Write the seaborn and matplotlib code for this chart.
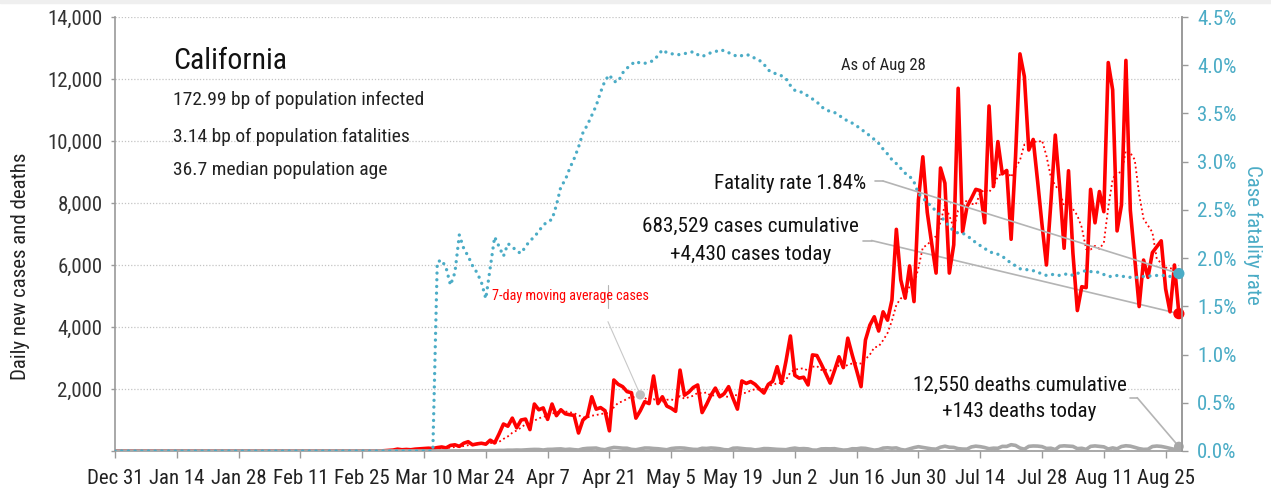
import pandas as pd
import numpy as np
import matplotlib
matplotlib.use("Agg")
import matplotlib.pyplot as plt
import matplotlib.ticker as mticker
from matplotlib import font_manager
from matplotlib.patches import Rectangle
import seaborn as sns

# daily values, Dec 31 2019 .. Aug 28 2020
dates = pd.date_range("2019-12-31", "2020-08-28", freq="D")

cases = [0] * 61 + [
    10, 20, 30, 60, 40, 50, 40, 60, 70, 80,
    90, 80, 110, 130, 100, 180, 200, 150, 250, 300,
    200, 230, 250, 220, 350, 260, 550, 870, 800, 1060,
    750, 1000, 1030, 690, 1515, 1330, 1390, 1020, 1515, 1140,
    1330, 1200, 1170, 1150, 580, 1000, 1120, 1750, 1350, 1400,
    1300, 650, 2290, 2150, 2075, 1915, 1880, 1060, 1300, 1590,
    1530, 2420, 1530, 1750, 1450, 1380, 1280, 2610, 1800, 1900,
    2050, 2130, 1240, 1500, 1800, 2030, 1750, 1850, 2075, 1700,
    1350, 2260, 2180, 2240, 2150, 2000, 1870, 2150, 2250, 2720,
    2180, 2900, 3710, 2440, 2350, 2380, 2130, 3100, 3080, 2800,
    2500, 2190, 2600, 3040, 2690, 3640, 3100, 2600, 2075, 3580,
    4060, 4330, 3870, 4490, 4220, 4870, 7150, 5520, 4930, 5970,
    4820, 8100, 9490, 7700, 6700, 5740, 9130, 8640, 5740, 6650,
    11700, 7070, 7880, 8150, 8440, 8400, 7360, 11130, 8530, 9980,
    8940, 9050, 6830, 9500, 12810, 12080, 9710, 10050, 8700, 7300,
    6000, 8000, 10190, 8500, 6540, 9040, 6380, 4530, 5300, 5270,
    8440, 7360, 8370, 7720, 12530, 11650, 7100, 7940, 12600, 7770,
    6200, 4660, 6160, 5600, 6400, 6590, 6780, 5230, 4490, 6000,
    4430,
]

deaths = [0] * 61 + [
    0, 0, 0, 1, 0, 1, 1, 1, 0, 2,
    1, 1, 1, 2, 3, 2, 4, 5, 6, 6,
    4, 7, 10, 8, 14, 13, 20, 18, 27, 26,
    32, 28, 38, 45, 51, 49, 32, 52, 54, 63,
    68, 48, 59, 43, 32, 70, 85, 89, 95, 56,
    42, 84, 115, 105, 91, 89, 52, 41, 68, 96,
    95, 81, 73, 56, 40, 79, 95, 100, 92, 70,
    53, 49, 88, 82, 97, 88, 72, 43, 35, 90,
    96, 80, 66, 60, 36, 52, 78, 76, 64, 54,
    47, 42, 74, 94, 71, 78, 68, 31, 28, 68,
    72, 69, 75, 50, 29, 37, 73, 70, 92, 85,
    56, 28, 45, 94, 104, 90, 100, 49, 28, 70,
    110, 139, 115, 94, 68, 60, 123, 154, 122, 116,
    76, 63, 60, 132, 156, 140, 113, 73, 92, 87,
    149, 147, 203, 180, 96, 58, 150, 162, 158, 141,
    82, 90, 48, 154, 167, 157, 148, 76, 88, 52,
    150, 164, 149, 134, 64, 100, 70, 145, 169, 156,
    118, 76, 53, 58, 145, 160, 148, 119, 86, 52,
    143,
]

# case fatality rate in percent
cfr_pct = [0] * 73 + [
    1.96, 1.98, 1.90, 1.72, 1.85, 2.24, 2.10, 2.02, 1.92, 1.85,
    1.75, 1.58, 1.90, 2.22, 2.12, 2.02, 2.15, 2.12, 2.07, 2.05,
    2.12, 2.18, 2.22, 2.28, 2.34, 2.38, 2.40, 2.55, 2.74, 2.81,
    2.93, 3.03, 3.15, 3.30, 3.38, 3.48, 3.58, 3.72, 3.84, 3.90,
    3.83, 3.83, 3.92, 3.97, 4.01, 4.04, 4.02, 4.02, 4.03, 4.05,
    4.10, 4.16, 4.13, 4.12, 4.11, 4.11, 4.12, 4.13, 4.14, 4.11,
    4.09, 4.11, 4.13, 4.14, 4.16, 4.15, 4.13, 4.11, 4.09, 4.10,
    4.11, 4.10, 4.07, 4.05, 4.01, 3.95, 3.92, 3.91, 3.89, 3.86,
    3.79, 3.74, 3.73, 3.71, 3.68, 3.65, 3.62, 3.57, 3.54, 3.52,
    3.51, 3.48, 3.45, 3.42, 3.40, 3.37, 3.34, 3.30, 3.27, 3.23,
    3.19, 3.13, 3.08, 3.02, 2.98, 2.93, 2.88, 2.85, 2.79, 2.67,
    2.62, 2.58, 2.53, 2.49, 2.44, 2.38, 2.33, 2.28, 2.26, 2.26,
    2.23, 2.20, 2.16, 2.13, 2.10, 2.07, 2.05, 2.04, 2.02, 1.98,
    1.95, 1.92, 1.89, 1.88, 1.88, 1.87, 1.85, 1.84, 1.82, 1.83,
    1.83, 1.82, 1.83, 1.84, 1.82, 1.84, 1.86, 1.87, 1.86, 1.86,
    1.85, 1.83, 1.81, 1.81, 1.82, 1.81, 1.81, 1.80, 1.80, 1.80,
    1.81, 1.81, 1.82, 1.82, 1.82, 1.82, 1.81, 1.82, 1.84,
]

tick_dates = pd.date_range("2019-12-31", "2020-08-25", freq="14D")
tick_labels = [f"{d:%b} {d.day}" for d in tick_dates]

df = pd.DataFrame({"date": dates, "cases": cases, "deaths": deaths,
                   "cfr": np.array(cfr_pct) / 100})
df["cases_ma7"] = df["cases"].rolling(7, min_periods=1).mean()

RED = "#ff0000"
BLUE = "#4bacc6"
GRAY = "#a8a8a8"
LEAD = "#b4b4b4"
SPINE = "#9a9a9a"

sns.set_theme(style="ticks")

# pick a narrow face if one is around, otherwise plain DejaVu Sans a bit smaller
fonts = font_manager.fontManager.ttflist
names = {f.name for f in fonts}
family, k = "DejaVu Sans", 0.8
for cand in ["Liberation Sans Narrow", "Roboto Condensed", "Open Sans Condensed",
             "Noto Sans Condensed", "DejaVu Sans Condensed"]:
    if cand in names:
        family, k = cand, 1.0
        break
plt.rcParams["font.family"] = [family, "DejaVu Sans"]
if family == "DejaVu Sans" and any(f.name == "DejaVu Sans" and f.stretch == "condensed" for f in fonts):
    plt.rcParams["font.stretch"] = "condensed"
    k = 0.88

fig, ax = plt.subplots(figsize=(12.71, 4.91), dpi=100)
fig.subplots_adjust(left=115 / 1271, right=1182 / 1271, bottom=40 / 491, top=474 / 491)
fig.add_artist(Rectangle((0, 1 - 3 / 491), 1, 3 / 491, transform=fig.transFigure,
                         color="#efefef", zorder=0))

# cases and deaths on the left axis
sns.lineplot(data=df, x="date", y="cases_ma7", ax=ax, color=RED, linewidth=1.3,
             linestyle=(0, (1, 1.6)), zorder=3)
sns.lineplot(data=df, x="date", y="cases", ax=ax, color=RED, linewidth=2.6, zorder=4)
sns.lineplot(data=df, x="date", y="deaths", ax=ax, color=GRAY, linewidth=2.6, zorder=5)

ax.set_xlim(dates[0], dates[-1] + pd.Timedelta(hours=17))
ax.set_ylim(0, 14000)
ax.set_yticks(range(0, 14001, 2000))
ax.yaxis.set_major_formatter(mticker.FuncFormatter(lambda v, p: "" if v == 0 else f"{v:,.0f}"))
ax.set_xticks(tick_dates)
ax.set_xticklabels(tick_labels)
ax.yaxis.grid(True, color="#c4c4c4", linestyle=(0, (1, 1.5)), linewidth=0.9)
ax.set_axisbelow(True)
ax.set_xlabel("")
ax.set_ylabel("Daily new cases and deaths", fontsize=15 * k, color="#222222")
ax.yaxis.set_label_coords(-0.080, 0.426)
ax.tick_params(axis="x", direction="out", length=5, width=1, color=SPINE, pad=8,
               labelsize=15 * k, labelcolor="#222222")
ax.tick_params(axis="y", direction="out", length=3, width=1, color=SPINE, pad=6,
               labelsize=15 * k, labelcolor="#333333")
for s in ["left", "bottom", "right"]:
    ax.spines[s].set_color(SPINE)
    ax.spines[s].set_linewidth(1.2)
ax.spines["top"].set_visible(False)

# case fatality rate on the right axis
ax2 = ax.twinx()
sns.lineplot(data=df, x="date", y="cfr", ax=ax2, color=BLUE, linewidth=2.4,
             linestyle=(0, (0.01, 2.0)), dash_capstyle="round", zorder=3)
ax2.set_ylim(0, 0.045)
ax2.set_yticks(np.arange(0, 0.0451, 0.005))
ax2.yaxis.set_major_formatter(mticker.PercentFormatter(xmax=1, decimals=1))
ax2.set_ylabel("Case fatality rate", fontsize=15 * k, color=BLUE, rotation=270)
ax2.yaxis.set_label_coords(1.075, 0.498)
ax2.tick_params(axis="y", direction="out", length=4, width=1, color=SPINE, pad=7,
                labelsize=15 * k, labelcolor=BLUE)
ax2.spines["top"].set_visible(False)
ax2.spines["left"].set_visible(False)
ax2.spines["bottom"].set_visible(False)
ax2.spines["right"].set_color(SPINE)
ax2.spines["right"].set_linewidth(1.2)

# end-of-series markers
last = df.iloc[-1]
sns.scatterplot(x=[last["date"]], y=[last["cases"]], ax=ax, color=RED, s=65,
                edgecolor="none", zorder=7, clip_on=False)
sns.scatterplot(x=[last["date"]], y=[last["deaths"]], ax=ax, color=GRAY, s=50,
                edgecolor="none", zorder=7, clip_on=False)
sns.scatterplot(x=[last["date"]], y=[last["cfr"]], ax=ax2, color=BLUE, s=65,
                edgecolor="none", zorder=7, clip_on=False)
ma_row = df[df["date"] == "2020-04-28"].iloc[0]
sns.scatterplot(x=[ma_row["date"]], y=[ma_row["cases_ma7"]], ax=ax, color="#bdbdbd", s=45,
                edgecolor="none", zorder=7)

# leader lines
lead = dict(arrowstyle="-", color=LEAD, lw=1.2, shrinkA=0, shrinkB=0)
ax.plot([0.7123, 0.7198], [0.6221, 0.6221], transform=ax.transAxes, color=LEAD, lw=1.2)
ax2.annotate("", xy=(last["date"], last["cfr"]), xycoords="data",
             xytext=(0.7198, 0.6221), textcoords="axes fraction", arrowprops=lead)
ax.plot([0.701, 0.709], [0.485, 0.485], transform=ax.transAxes, color=LEAD, lw=1.2)
ax.annotate("", xy=(last["date"], last["cases"]), xycoords="data",
            xytext=(0.709, 0.485), textcoords="axes fraction", arrowprops=lead)
ax.plot([0.9513, 0.958], [0.1228, 0.1228], transform=ax.transAxes, color=LEAD, lw=1.2)
ax.annotate("", xy=(last["date"], last["deaths"]), xycoords="data",
            xytext=(0.958, 0.1228), textcoords="axes fraction", arrowprops=lead)
ax.plot([0.4616, 0.4616], [0.3825, 0.3295], transform=ax.transAxes, color=LEAD, lw=0.8)
ax.annotate("", xy=(ma_row["date"], ma_row["cases_ma7"]), xycoords="data",
            xytext=(0.462, 0.298), textcoords="axes fraction",
            arrowprops=dict(arrowstyle="-", color="#c8c8c8", lw=0.8, shrinkA=0, shrinkB=0))

# text
tA = ax.transAxes
ax.text(0.0544, 0.899, "California", transform=tA, fontsize=21.5 * k, color="#111111",
        va="center", ha="left")
ax.text(0.0544, 0.809, "172.99 bp of population infected", transform=tA, fontsize=14 * k,
        color="#222222", va="center", ha="left")
ax.text(0.0544, 0.7235, "3.14 bp of population fatalities", transform=tA, fontsize=14 * k,
        color="#222222", va="center", ha="left")
ax.text(0.0544, 0.6475, "36.7 median population age", transform=tA, fontsize=14 * k,
        color="#222222", va="center", ha="left")
ax.text(0.72, 0.889, "As of Aug 28", transform=tA, fontsize=12 * k, color="#222222",
        va="center", ha="center")
ax.text(0.7038, 0.6175, "Fatality rate 1.84%", transform=tA, fontsize=15 * k,
        color="#111111", va="center", ha="right")
ax.text(0.596, 0.5184, "683,529 cases cumulative", transform=tA, fontsize=15.2 * k,
        color="#111111", va="center", ha="center")
ax.text(0.596, 0.4539, "+4,430 cases today", transform=tA, fontsize=15.2 * k,
        color="#111111", va="center", ha="center")
ax.text(0.8477, 0.152, "12,550 deaths cumulative", transform=tA, fontsize=15.2 * k,
        color="#111111", va="center", ha="center")
ax.text(0.8477, 0.0899, "+143 deaths today", transform=tA, fontsize=15.2 * k,
        color="#111111", va="center", ha="center")
ax.text(0.3533, 0.357, "7-day moving average cases", transform=tA, fontsize=10.2 * k,
        color=RED, va="center", ha="left")

fig.savefig("out.png", dpi=100)
